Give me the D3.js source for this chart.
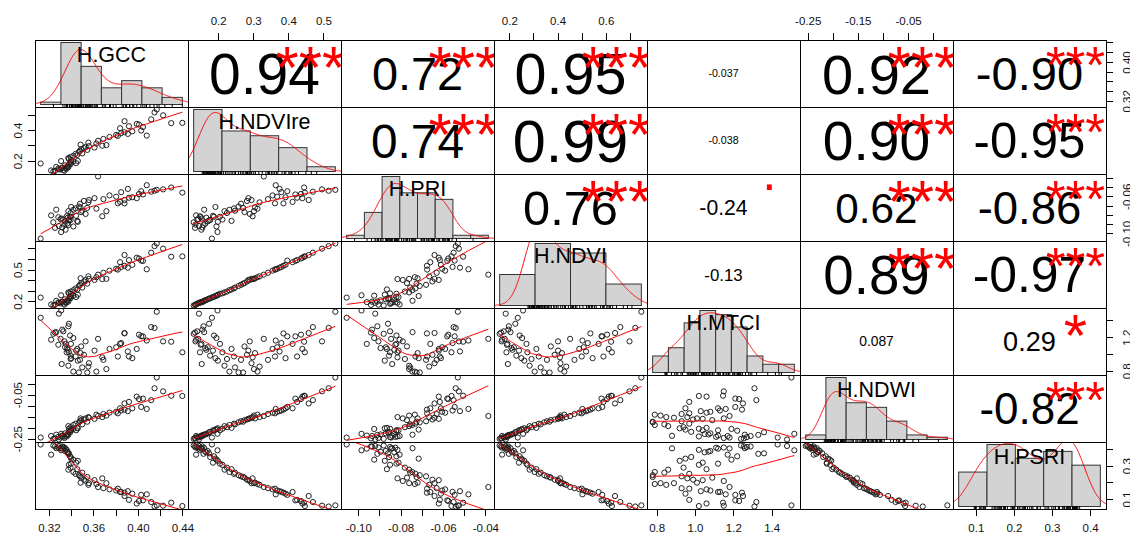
<!DOCTYPE html>
<html>
<head>
<meta charset="utf-8">
<script src="https://cdn.jsdelivr.net/npm/d3@7"></script>
<style>
  body { margin: 0; background: #fff; }
  svg text { font-family: Arial, "Liberation Sans", sans-serif; }
</style>
</head>
<body>
<svg id="chart" width="1130" height="535"></svg>
<script>
// variable names (diagonal labels)
var varNames = ["H.GCC", "H.NDVIre", "H.PRI", "H.NDVI", "H.MTCI", "H.NDWI", "H.PSRI"];

var gcc = [0.3126,0.3220,0.3310,0.3290,0.3266,0.3240,0.3330,0.3350,0.3370,0.3380,
  0.3340,0.3360,0.3390,0.3400,0.3320,0.3305,0.3345,0.3375,0.3285,0.3395,
  0.3420,0.3445,0.3460,0.3255,0.3365,0.3315,0.3380,0.3395,0.3398,0.3375,
  0.3420,0.3440,0.3455,0.3470,0.3480,0.3490,0.3500,0.3515,0.3530,0.3545,
  0.3560,0.3610,0.3680,0.3485,0.3555,0.3642,0.3627,0.3690,0.3717,0.3745,
  0.3805,0.3820,0.3850,0.3880,0.3910,0.3950,0.4030,0.4080,0.3840,0.3880,
  0.3920,0.3990,0.4010,0.4046,0.4120,0.4227,0.4300,0.4400,0.4170,0.4150];
var ndvire = [0.182,0.137,0.198,0.145,0.160,0.130,0.140,0.152,0.166,0.174,
  0.135,0.148,0.188,0.192,0.155,0.143,0.170,0.158,0.150,0.177,
  0.195,0.185,0.199,0.134,0.163,0.153,0.212,0.225,0.205,0.218,
  0.232,0.245,0.238,0.258,0.265,0.275,0.248,0.282,0.290,0.271,
  0.295,0.286,0.298,0.305,0.318,0.330,0.312,0.342,0.302,0.355,
  0.368,0.362,0.380,0.386,0.375,0.392,0.397,0.364,0.412,0.458,
  0.425,0.440,0.436,0.420,0.470,0.496,0.445,0.447,0.534,0.515];
var pri = [-0.1055,-0.0805,-0.0985,-0.0920,-0.0744,-0.0880,-0.0850,-0.0960,-0.0830,-0.0860,
  -0.0905,-0.0815,-0.0820,-0.0715,-0.0935,-0.0845,-0.0870,-0.0910,-0.0825,-0.0855,
  -0.0925,-0.0810,-0.0875,-0.0940,-0.0895,-0.0840,-0.0850,-0.0780,-0.0820,-0.0760,
  -0.0745,-0.0730,-0.0865,-0.0710,-0.0680,-0.0770,-0.0755,-0.0650,-0.0790,-0.0725,
  -0.0640,-0.0620,-0.0815,-0.0720,-0.0665,-0.0386,-0.0733,-0.0630,-0.0760,-0.0590,
  -0.0604,-0.0675,-0.0555,-0.0676,-0.0520,-0.0610,-0.0545,-0.0480,-0.0660,-0.0640,
  -0.0615,-0.0620,-0.0575,-0.0580,-0.0550,-0.0525,-0.0505,-0.0560,-0.0530,-0.0540];
var ndvi = [0.235,0.170,0.257,0.185,0.205,0.160,0.177,0.192,0.213,0.225,
  0.168,0.188,0.243,0.250,0.196,0.181,0.219,0.198,0.190,0.229,
  0.253,0.240,0.262,0.166,0.209,0.194,0.275,0.292,0.271,0.284,
  0.305,0.322,0.312,0.345,0.356,0.372,0.330,0.388,0.402,0.367,
  0.412,0.402,0.410,0.418,0.436,0.452,0.428,0.470,0.412,0.490,
  0.508,0.500,0.525,0.536,0.518,0.545,0.585,0.503,0.570,0.638,
  0.590,0.612,0.605,0.582,0.660,0.698,0.622,0.625,0.747,0.722];
var mtci = [1.431,1.17,1.518,1.48,1.26,1.24,1.27,1.12,1.05,1.36,
  1.15,1.02,1.22,0.95,1.29,1.18,1.08,1.33,1.11,0.98,
  1.19,1.04,0.92,1.255,1.07,0.88,1.02,0.94,1.12,0.86,
  0.79,0.97,1.06,0.78,0.93,1.09,0.84,0.99,1.15,0.779,
  0.89,1.04,0.96,1.01,0.85,1.18,0.79,0.93,0.82,1.06,
  1.08,0.97,1.13,1.245,1.03,0.95,1.21,1.16,1.12,1.25,
  0.97,1.06,1.23,1.21,1.32,1.15,1.146,1.02,1.503,1.31];
var ndwi = [-0.245,-0.238,-0.228,-0.254,-0.232,-0.251,-0.243,-0.236,-0.229,-0.221,
  -0.247,-0.240,-0.214,-0.209,-0.238,-0.245,-0.226,-0.233,-0.242,-0.219,
  -0.206,-0.212,-0.203,-0.249,-0.231,-0.237,-0.205,-0.198,-0.212,-0.193,
  -0.188,-0.182,-0.201,-0.176,-0.171,-0.166,-0.185,-0.163,-0.158,-0.173,
  -0.155,-0.160,-0.152,-0.158,-0.152,-0.147,-0.141,-0.138,-0.145,-0.132,
  -0.128,-0.135,-0.122,-0.118,-0.125,-0.112,-0.106,-0.115,-0.112,-0.090,
  -0.083,-0.059,-0.070,-0.068,-0.075,-0.035,-0.055,-0.056,0.028,-0.021];
var psri = [0.427,0.366,0.392,0.418,0.405,0.421,0.412,0.402,0.380,0.374,
  0.409,0.395,0.356,0.342,0.415,0.403,0.388,0.371,0.408,0.352,
  0.336,0.318,0.329,0.416,0.384,0.404,0.305,0.288,0.312,0.276,
  0.262,0.251,0.279,0.243,0.236,0.228,0.258,0.216,0.208,0.232,
  0.195,0.213,0.224,0.198,0.185,0.172,0.190,0.165,0.195,0.158,
  0.151,0.162,0.143,0.138,0.147,0.132,0.125,0.128,0.142,0.118,
  0.095,0.073,0.088,0.092,0.082,0.060,0.078,0.058,0.062,0.055];

// correlation labels and significance stars (upper triangle, row by row)
var corLabels = [
  ["0.94", "0.72", "0.95", "-0.037", "0.92", "-0.90"],
  ["0.74", "0.99", "-0.038", "0.90", "-0.95"],
  ["0.76", "-0.24", "0.62", "-0.86"],
  ["-0.13", "0.89", "-0.97"],
  ["0.087", "0.29"],
  ["-0.82"]
];
var sigLabels = [
  ["***", "***", "***", "", "***", "***"],
  ["***", "***", "", "***", "***"],
  ["***", ".", "***", "***"],
  ["", "***", "***"],
  ["", "*"],
  ["***"]
];

// histogram breaks
var histBreaks = [
  [0.30, 0.32, 0.34, 0.36, 0.38, 0.40, 0.42, 0.44],
  [0.1, 0.2, 0.3, 0.4, 0.5, 0.6],
  [-0.11, -0.10, -0.09, -0.08, -0.07, -0.06, -0.05, -0.04, -0.03],
  [0.0, 0.2, 0.4, 0.6, 0.8],
  [0.7, 0.8, 0.9, 1.0, 1.1, 1.2, 1.3, 1.4, 1.5, 1.6],
  [-0.30, -0.25, -0.20, -0.15, -0.10, -0.05, 0.00, 0.05],
  [0.0, 0.1, 0.2, 0.3, 0.4, 0.5]
];

// axis ticks per variable
var axisTicks = [
  [0.32, 0.34, 0.36, 0.38, 0.40, 0.42, 0.44],
  [0.2, 0.3, 0.4, 0.5],
  [-0.10, -0.09, -0.08, -0.07, -0.06, -0.05, -0.04],
  [0.2, 0.3, 0.4, 0.5, 0.6, 0.7],
  [0.8, 1.0, 1.2, 1.4],
  [-0.25, -0.20, -0.15, -0.10, -0.05, 0.00],
  [0.1, 0.2, 0.3, 0.4]
];
// tick labels that survive R's overlap check ("" = tick only)
var topLabels = {
  1: ["0.2", "0.3", "0.4", "0.5"],
  3: ["0.2", "", "0.4", "", "0.6", ""],
  5: ["-0.25", "", "-0.15", "", "-0.05", ""]
};
var bottomLabels = {
  0: ["0.32", "", "0.36", "", "0.40", "", "0.44"],
  2: ["-0.10", "", "-0.08", "", "-0.06", "", "-0.04"],
  4: ["0.8", "1.0", "1.2", "1.4"],
  6: ["0.1", "0.2", "0.3", "0.4"]
};
var leftLabels = {
  1: ["0.2", "", "0.4", ""],
  3: ["0.2", "", "", "0.5", "", ""],
  5: ["-0.25", "", "", "", "-0.05", ""]
};
var rightLabels = {
  0: ["0.32", "", "", "", "0.40", "", ""],
  2: ["-0.10", "", "", "", "-0.06", "", ""],
  4: ["0.8", "", "1.2", ""],
  6: ["0.1", "", "0.3", ""]
};

var data = [gcc, ndvire, pri, ndvi, mtci, ndwi, psri];
var nv = data.length;

var margin = {left: 35, top: 40},
    cellW = 153, cellH = 67;

var svg = d3.select("#chart");

// R pads every variable's range by 4%
function padScale(v, range) {
  var e = d3.extent(v), pad = (e[1] - e[0]) * 0.04;
  return d3.scaleLinear().domain([e[0] - pad, e[1] + pad]).range(range);
}
var xs = data.map(function(v) { return padScale(v, [0, cellW]); });
var ys = data.map(function(v) { return padScale(v, [cellH, 0]); });

svg.append("defs").append("clipPath").attr("id", "cell")
  .append("rect").attr("width", cellW).attr("height", cellH);

// gaussian density like R's density() with bw.nrd0
function kde(v) {
  var n = v.length;
  var iqr = d3.quantile(v, 0.75) - d3.quantile(v, 0.25);
  var bw = 0.9 * Math.min(d3.deviation(v), iqr / 1.34) * Math.pow(n, -0.2);
  var e = d3.extent(v), a = e[0] - 3 * bw, b = e[1] + 3 * bw;
  var out = [];
  for (var k = 0; k < 512; k++) {
    var x = a + (b - a) * k / 511, s = 0;
    for (var q = 0; q < n; q++) {
      var z = (x - v[q]) / bw;
      s += Math.exp(-0.5 * z * z);
    }
    out.push([x, s / (n * bw * Math.sqrt(2 * Math.PI))]);
  }
  return out;
}

// lowess smoother (f = 2/3, iter = 3), as panel.smooth does
function lowess(x, y, f, iter) {
  var idx = d3.range(x.length).sort(function(a, b) { return x[a] - x[b]; });
  var X = idx.map(function(i) { return x[i]; }), Y = idx.map(function(i) { return y[i]; });
  var n = X.length, ns = Math.max(2, Math.min(n, Math.round(f * n)));
  var range = X[n - 1] - X[0];
  var rw = new Array(n).fill(1), fit = new Array(n).fill(0);
  for (var it = 0; it <= iter; it++) {
    var nl = 0, nr = ns - 1;
    for (var i = 0; i < n; i++) {
      while (nr < n - 1 && X[i] - X[nl] > X[nr + 1] - X[i]) { nl++; nr++; }
      var h = Math.max(X[i] - X[nl], X[nr] - X[i]);
      var h9 = 0.999 * h, h1 = 0.001 * h;
      var w = [], js = [], sw = 0;
      for (var j = nl; j < n; j++) {
        var r = Math.abs(X[j] - X[i]);
        if (r <= h9) {
          var wt = r <= h1 ? 1 : Math.pow(1 - Math.pow(r / h, 3), 3);
          wt *= rw[j];
          w.push(wt); js.push(j); sw += wt;
        } else if (X[j] > X[i]) break;
      }
      if (sw <= 0) { fit[i] = Y[i]; continue; }
      w = w.map(function(d) { return d / sw; });
      if (h > 0) {
        var a = 0;
        js.forEach(function(j, q) { a += w[q] * X[j]; });
        var b = X[i] - a, c = 0;
        js.forEach(function(j, q) { c += w[q] * (X[j] - a) * (X[j] - a); });
        if (Math.sqrt(c) > 0.001 * range) {
          b /= c;
          js.forEach(function(j, q) { w[q] *= (b * (X[j] - a) + 1); });
        }
      }
      var s = 0;
      js.forEach(function(j, q) { s += w[q] * Y[j]; });
      fit[i] = s;
    }
    if (it === iter) break;
    var res = Y.map(function(d, q) { return d - fit[q]; });
    var cmad = 6 * d3.median(res.map(Math.abs));
    if (cmad < 1e-7) break;
    var c9 = 0.999 * cmad, c1 = 0.001 * cmad;
    rw = res.map(function(d) {
      var r = Math.abs(d);
      if (r <= c1) return 1;
      if (r > c9) return 0;
      return Math.pow(1 - Math.pow(r / cmad, 2), 2);
    });
  }
  return X.map(function(d, q) { return [d, fit[q]]; });
}

function drawHist(g, k) {
  var v = data[k], b = histBreaks[k], nb = b.length - 1;
  var counts = new Array(nb).fill(0);
  v.forEach(function(x) {
    for (var q = 0; q < nb; q++) {
      if (x <= b[q + 1] + 1e-12) { counts[q]++; break; }
    }
  });
  var dens = counts.map(function(c, q) { return c / (v.length * (b[q + 1] - b[q])); });
  var span = b[nb] - b[0], top = d3.max(dens);
  var hx = d3.scaleLinear().domain([b[0] - 0.04 * span, b[nb] + 0.04 * span]).range([0, cellW]);
  var hy = d3.scaleLinear().domain([-0.04 * top, 1.04 * top]).range([cellH, 0]);

  g.selectAll("rect.bar")
    .data(dens)
    .enter()
    .append("rect")
      .attr("x", function(d, q) { return hx(b[q]); })
      .attr("width", function(d, q) { return hx(b[q + 1]) - hx(b[q]); })
      .attr("y", function(d) { return hy(d); })
      .attr("height", function(d) { return hy(0) - hy(d); })
      .attr("fill", "#d3d3d3")
      .attr("stroke", "#333")
      .attr("stroke-width", 1);

  g.append("path")
    .datum(kde(v))
    .attr("fill", "none")
    .attr("stroke", "#ff0000")
    .attr("stroke-width", 1)
    .attr("d", d3.line().x(function(d) { return hx(d[0]); }).y(function(d) { return hy(d[1]); }));

  // rug
  g.selectAll("line.rug")
    .data(v)
    .enter()
    .append("line")
      .attr("x1", function(d) { return hx(d); })
      .attr("x2", function(d) { return hx(d); })
      .attr("y1", cellH)
      .attr("y2", cellH - 3)
      .attr("stroke", "#000")
      .attr("stroke-width", 1);

  g.append("text")
    .attr("x", cellW / 2)
    .attr("y", 21.5)
    .attr("text-anchor", "middle")
    .style("font-size", "21.5px")
    .attr("fill", "#000")
    .text(varNames[k]);
}

function drawScatter(g, xi, yi) {
  var xv = data[xi], yv = data[yi];
  g.selectAll("circle")
    .data(xv)
    .enter()
    .append("circle")
      .attr("cx", function(d) { return xs[xi](d); })
      .attr("cy", function(d, q) { return ys[yi](yv[q]); })
      .attr("r", 2.6)
      .attr("fill", "none")
      .attr("stroke", "#222")
      .attr("stroke-width", 1);

  g.append("path")
    .datum(lowess(xv, yv, 2 / 3, 3))
    .attr("fill", "none")
    .attr("stroke", "#ff0000")
    .attr("stroke-width", 1)
    .attr("d", d3.line().x(function(d) { return xs[xi](d[0]); }).y(function(d) { return ys[yi](d[1]); }));
}

// width of a string at font-size 1px
function textWidth(s) {
  var t = svg.append("text").style("font-size", "100px").text(s);
  var w = t.node().getComputedTextLength() / 100;
  t.remove();
  return w;
}

function drawCor(g, i, j) {
  var txt = corLabels[i][j - i - 1], sig = sigLabels[i][j - i - 1];
  var r = Math.abs(parseFloat(txt));
  var base = 0.76 * cellW / textWidth(txt);
  var size = base * (r + 0.3) / 1.3;
  g.append("text")
    .attr("x", cellW / 2)
    .attr("y", cellH / 2 + 0.36 * size)
    .attr("text-anchor", "middle")
    .style("font-size", size + "px")
    .attr("fill", "#000")
    .text(txt);
  if (sig) {
    var shift = sig === "." ? 0.05 : 0.573;
    g.append("text")
      .attr("x", cellW * 0.8)
      .attr("y", cellH * 0.2 + shift * base)
      .attr("text-anchor", "middle")
      .style("font-size", base + "px")
      .attr("fill", "#ff0000")
      .text(sig);
  }
}

for (var i = 0; i < nv; i++) {
  for (var j = 0; j < nv; j++) {
    var cell = svg.append("g")
      .attr("transform", "translate(" + (margin.left + j * cellW) + "," + (margin.top + i * cellH) + ")");
    var inner = cell.append("g").attr("clip-path", "url(#cell)");
    if (i === j) drawHist(inner, i);
    else if (i > j) drawScatter(inner, j, i);
    else drawCor(inner, i, j);
    cell.append("rect")
      .attr("width", cellW)
      .attr("height", cellH)
      .attr("fill", "none")
      .attr("stroke", "#000")
      .attr("stroke-width", 1)
      .attr("shape-rendering", "crispEdges");
  }
}

// axes
function styleAxis(ax) {
  ax.select(".domain").remove();
  ax.attr("font-family", null).attr("font-size", null);
  ax.selectAll(".tick line").attr("stroke", "#000").attr("shape-rendering", "crispEdges");
  ax.selectAll(".tick text").style("font-size", "11.5px").attr("fill", "#111");
}

Object.keys(topLabels).forEach(function(key) {
  var k = +key, labs = topLabels[k];
  var ax = svg.append("g")
    .attr("transform", "translate(" + (margin.left + k * cellW) + "," + margin.top + ")")
    .call(d3.axisTop(xs[k]).tickValues(axisTicks[k]).tickSize(7).tickSizeOuter(0)
      .tickFormat(function(d, q) { return labs[q]; }));
  styleAxis(ax);
  ax.selectAll(".tick text").attr("y", -15).attr("dy", null);
});

Object.keys(bottomLabels).forEach(function(key) {
  var k = +key, labs = bottomLabels[k];
  var ax = svg.append("g")
    .attr("transform", "translate(" + (margin.left + k * cellW) + "," + (margin.top + nv * cellH) + ")")
    .call(d3.axisBottom(xs[k]).tickValues(axisTicks[k]).tickSize(7).tickSizeOuter(0)
      .tickFormat(function(d, q) { return labs[q]; }));
  styleAxis(ax);
  ax.selectAll(".tick text").attr("y", 23).attr("dy", null);
});

Object.keys(leftLabels).forEach(function(key) {
  var k = +key, labs = leftLabels[k];
  var ax = svg.append("g")
    .attr("transform", "translate(" + margin.left + "," + (margin.top + k * cellH) + ")")
    .call(d3.axisLeft(ys[k]).tickValues(axisTicks[k]).tickSize(7).tickSizeOuter(0)
      .tickFormat(function(d, q) { return labs[q]; }));
  styleAxis(ax);
  ax.selectAll(".tick text")
    .attr("x", null).attr("dy", null)
    .attr("text-anchor", "middle")
    .attr("transform", "translate(-13.3,0) rotate(-90)");
});

Object.keys(rightLabels).forEach(function(key) {
  var k = +key, labs = rightLabels[k];
  var ax = svg.append("g")
    .attr("transform", "translate(" + (margin.left + nv * cellW) + "," + (margin.top + k * cellH) + ")")
    .call(d3.axisRight(ys[k]).tickValues(axisTicks[k]).tickSize(7).tickSizeOuter(0)
      .tickFormat(function(d, q) { return labs[q]; }));
  styleAxis(ax);
  ax.selectAll(".tick text")
    .attr("x", null).attr("dy", null)
    .attr("text-anchor", "middle")
    .attr("transform", "translate(25,0) rotate(-90)");
});
</script>
</body>
</html>
